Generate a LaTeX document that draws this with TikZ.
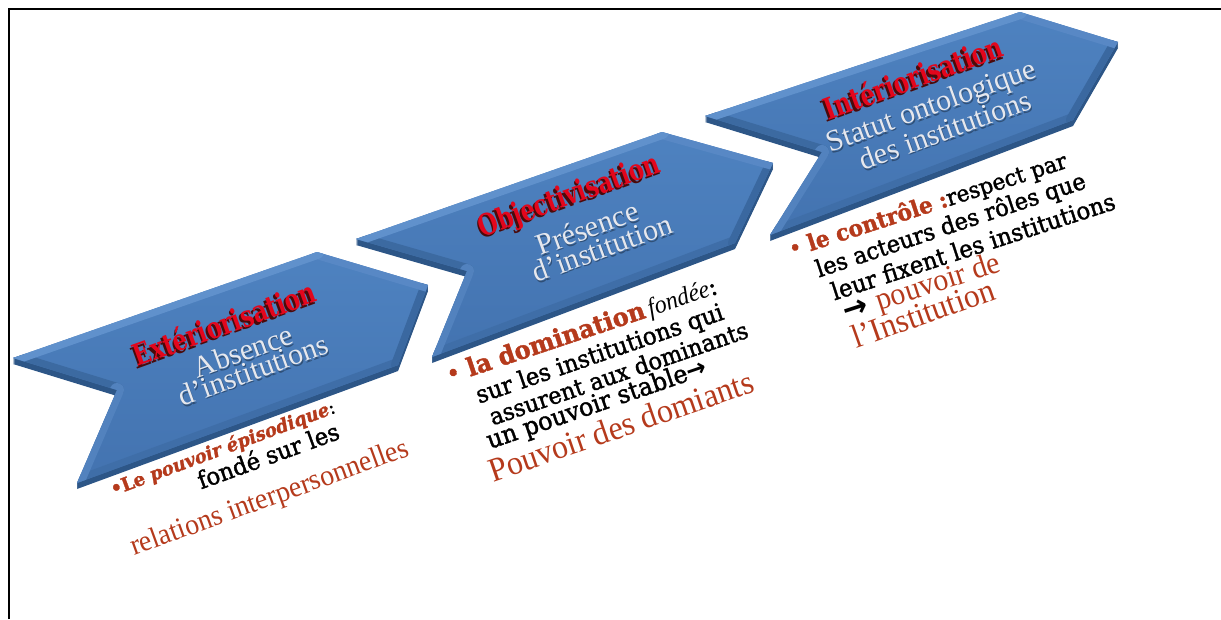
\documentclass[tikz,border=0pt]{standalone}
\usepackage{fontspec}
\usepackage{graphicx}
\setmainfont{DejaVu Serif}
\newfontfamily\tnr{Liberation Serif}
\newfontfamily\heavy[FakeBold=1.6]{DejaVu Serif}
\newfontfamily\arrowf{DejaVu Sans}
\definecolor{faceT}{HTML}{4E82C0}
\definecolor{faceB}{HTML}{4373B0}
\definecolor{chevside}{HTML}{2D5687}
\definecolor{bevAB}{HTML}{6091CC}
\definecolor{bevBC}{HTML}{5888C5}
\definecolor{bevCD}{HTML}{3A68A0}
\definecolor{bevDE}{HTML}{3F6EA8}
\definecolor{bevEF}{HTML}{5282BE}
\definecolor{bevFA}{HTML}{3C6AA1}
\definecolor{titlered}{HTML}{E3061C}
\definecolor{titleshadow}{HTML}{4A0A0A}
\definecolor{subtxt}{HTML}{E6E8EE}
\definecolor{rb}{HTML}{B53A1C}
\tikzset{
  frameline/.style={line width=2pt, draw=black},
  sidefill/.style={fill=chevside},
  bevel/.style={line width=14pt, line cap=round, line join=round},
  titletext/.style={rotate=20, inner sep=0pt, text=titlered, font=\bfseries},
  titleshade/.style={rotate=20, inner sep=0pt, text=titleshadow, font=\bfseries},
  subtext/.style={rotate=20, inner sep=0pt, text=subtxt, font=\tnr\fontsize{30}{32}\selectfont},
  subshade/.style={rotate=20, inner sep=0pt, text=black, opacity=0.35, font=\tnr\fontsize{30}{32}\selectfont},
  bodytext/.style={inner sep=0pt, text=black, font=\heavy},
}
% fit a line of text to a given width, optionally stretched vertically
\newcommand{\fitline}[3][1.05]{\resizebox{#2pt}{!}{\scalebox{1}[#1]{#3}}}
\newcommand{\drawchevron}[1]{%
  \foreach \s in {1,...,6}{%
    \fill[sidefill] ([yshift=-\s pt]#1A) -- ([yshift=-\s pt]#1B) -- ([yshift=-\s pt]#1C) -- ([yshift=-\s pt]#1D) -- ([yshift=-\s pt]#1E) -- ([yshift=-\s pt]#1F) -- cycle;}
  \shade[top color=faceT, bottom color=faceB] (#1A) -- (#1B) -- (#1C) -- (#1D) -- (#1E) -- (#1F) -- cycle;
  \begin{scope}
    \clip (#1A) -- (#1B) -- (#1C) -- (#1D) -- (#1E) -- (#1F) -- cycle;
    \draw[bevel, bevFA] (#1F) -- (#1A);
    \draw[bevel, bevDE] (#1D) -- (#1E);
    \draw[bevel, bevCD] (#1C) -- (#1D);
    \draw[bevel, bevEF] (#1E) -- (#1F);
    \draw[bevel, bevBC] (#1B) -- (#1C);
    \draw[bevel, bevAB] (#1A) -- (#1B);
  \end{scope}
}
\begin{document}
\begin{tikzpicture}[x=1pt,y=-1pt]
\useasboundingbox (0,0) rectangle (1221,619);
\draw[frameline] (8.5,619) -- (8.5,9) -- (1221,9);

% chevron corner points
\coordinate (aA) at (13,358);  \coordinate (aB) at (317,252); \coordinate (aC) at (428,285);
\coordinate (aD) at (398,365); \coordinate (aE) at (77,483);  \coordinate (aF) at (117,390);
\coordinate (bA) at (356,239); \coordinate (bB) at (662,132); \coordinate (bC) at (773,163);
\coordinate (bD) at (735,243); \coordinate (bE) at (432,357); \coordinate (bF) at (467,271);
\coordinate (cA) at (705,116); \coordinate (cB) at (1020,12); \coordinate (cC) at (1118,42);
\coordinate (cD) at (1073,120); \coordinate (cE) at (770,235); \coordinate (cF) at (822,152);

\drawchevron{c}
\drawchevron{b}
\drawchevron{a}

% chevron 1 texts
\node[titleshade] (t1s) at (222.3,325.5) {\fitline[1.3]{192}{Extériorisation}};
\node[titletext] (t1) at (224,323) {\fitline[1.3]{192}{Extériorisation}};
\node[subshade] (s1as) at (244,352.5) {Absence};
\node[subtext] (s1a) at (243,351) {Absence};
\node[subshade] (s1bs) at (254,371.5) {d’institutions};
\node[subtext] (s1b) at (253,370) {d’institutions};

% chevron 2 texts
\node[titleshade] (t2s) at (568.3,199.5) {\fitline[1.3]{191}{Objectivisation}};
\node[titletext] (t2) at (570,197) {\fitline[1.3]{191}{Objectivisation}};
\node[subshade] (s2as) at (588,229.5) {Présence};
\node[subtext] (s2a) at (587,228) {Présence};
\node[subshade] (s2bs) at (603,249.5) {d’institution};
\node[subtext] (s2b) at (602,248) {d’institution};

% chevron 3 texts
\node[titleshade] (t3s) at (911.3,79.5) {\fitline[1.3]{188}{Intériorisation}};
\node[titletext] (t3) at (913,77) {\fitline[1.3]{188}{Intériorisation}};
\node[subshade] (s3as) at (933,109.5) {Statut ontologique};
\node[subtext] (s3a) at (932,108) {Statut ontologique};
\node[subshade] (s3bs) at (946,131.5) {des institutions};
\node[subtext] (s3b) at (945,130) {des institutions};

% texts under chevron 1
\node[bodytext, rotate=20.5] (p1a) at (223,449) {\fitline{238}{\textcolor{rb}{\bfseries •Le \itshape pouvoir épisodique}:}};
\node[bodytext, rotate=20] (p1b) at (268,455) {\fitline{149}{fondé sur les}};
\node[bodytext, rotate=20, text=rb, font=\tnr] (p1c) at (270,499) {\fitline{294}{relations interpersonnelles}};

% texts under chevron 2
\node[bodytext, rotate=18.5] (p2a) at (582,332) {\fitline{284}{\textcolor{rb}{• \bfseries la domination}\,{\tnr\itshape fondée}:}};
\node[bodytext, rotate=19] (p2b) at (600,355) {\fitline{260}{sur les institutions qui}};
\node[bodytext, rotate=19] (p2c) at (618.5,373) {\fitline{272}{assurent aux dominants}};
\node[bodytext, rotate=19] (p2d) at (597,405) {\fitline{231}{un pouvoir stable{\arrowf\bfseries →}}};
\node[bodytext, rotate=19, text=rb, font=\tnr] (p2e) at (621,426) {\fitline{278}{Pouvoir des domiants}};

% texts under chevron 3
\node[bodytext, rotate=18] (p3a) at (928,206) {\fitline{291}{\textcolor{rb}{• \bfseries le contrôle :}respect par}};
\node[bodytext, rotate=18.5] (p3b) at (951,226) {\fitline{283}{les acteurs des rôles que}};
\node[bodytext, rotate=18] (p3c) at (973,246) {\fitline{297}{leur fixent les institutions}};
\node[bodytext, rotate=18] (p3d) at (922,289) {\fitline{163}{{\arrowf\bfseries →} \textcolor{rb}{\tnr pouvoir de}}};
\node[bodytext, rotate=19.5, text=rb, font=\tnr] (p3e) at (923,313) {\fitline{149}{l’Institution}};
\end{tikzpicture}
\end{document}
